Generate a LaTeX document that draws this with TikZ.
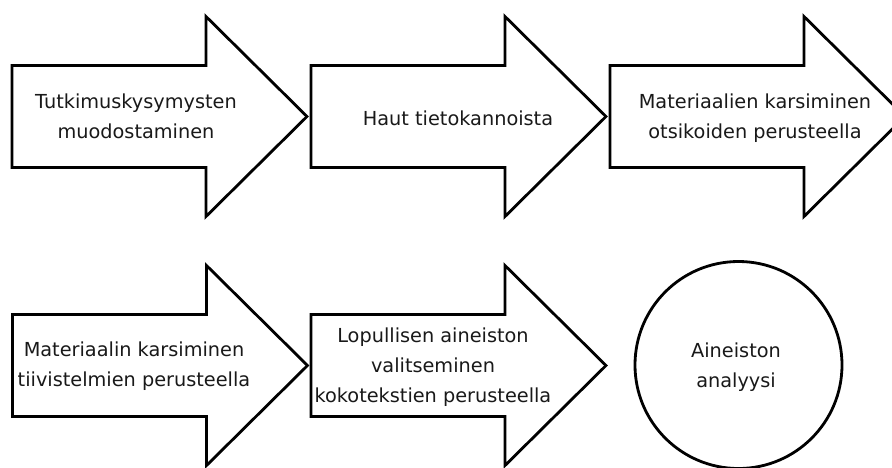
\documentclass[tikz,border=0pt]{standalone}
\usepackage{fontspec}
\setmainfont{DejaVu Sans}
\begin{document}
\begin{tikzpicture}[x=1pt,y=-1pt,
  shapeline/.style={draw=black,line width=2.8pt,fill=white},
  arrowpic/.pic={\draw[shapeline] (0,-51) -- (194,-51) -- (194,-100) -- (295,0) -- (194,100) -- (194,51) -- (0,51) -- cycle;},
  label/.style={inner sep=0pt,align=center,font=\fontsize{19.3}{30}\selectfont,text=black!90}]
\useasboundingbox (0,0) rectangle (892,467);
\fill[white] (0,0) rectangle (892,467);
\pic (a1) at (12,116.5) {arrowpic};
\pic (a2) at (311,116.5) {arrowpic};
\pic (a3) at (610,116.5) {arrowpic};
\pic (a4) at (12.5,365.5) {arrowpic};
\pic (a5) at (311,365.5) {arrowpic};
\node[shapeline,circle,minimum size=207pt,inner sep=0pt] (c6) at (738.5,365) {};
\node[label] (t1) at (136,116.5) {Tutkimuskysymysten\\muodostaminen};
\node[label] (t2) at (458,118) {Haut tietokannoista};
\node[label] (t3) at (755,118) {Materiaalien karsiminen\\otsikoiden perusteella};
\node[label] (t4) at (134,366) {Materiaalin karsiminen\\tiivistelmien perusteella};
\node[label] (t5) at (433,367.5) {Lopullisen aineiston\\valitseminen\\kokotekstien perusteella};
\node[label] (t6) at (736,367) {Aineiston\\analyysi};
\end{tikzpicture}
\end{document}
